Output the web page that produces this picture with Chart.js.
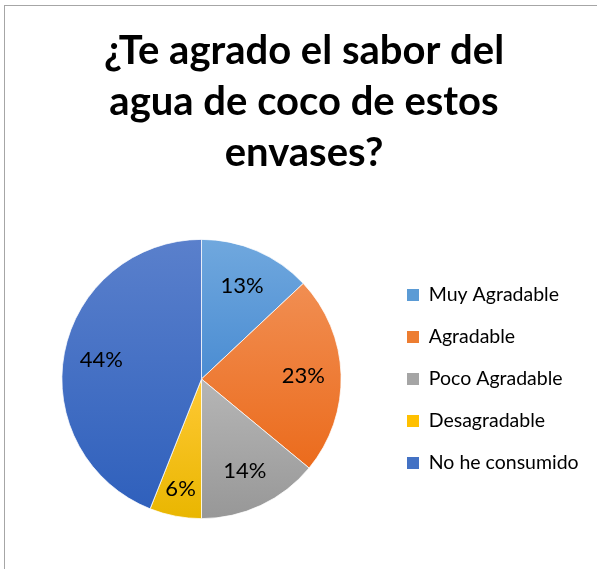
<!DOCTYPE html>
<html lang="es">
<head>
<meta charset="utf-8">
<title>Agua de coco - encuesta</title>
<script src="https://cdn.jsdelivr.net/npm/chart.js@4/dist/chart.umd.min.js"></script>
<style>
    html, body { margin: 0; padding: 0; background: #fff; }
    #marco {
        position: absolute; left: 4px; top: 5px; width: 700px; height: 700px;
        border-left: 1px solid #a6a6a6; border-top: 1px solid #a6a6a6;
    }
    #grafico { position: absolute; left: 0; top: 0; }
</style>
</head>
<body>
<div id="marco"></div>
<canvas id="grafico" width="597" height="569"></canvas>
<script>
// respuestas de la encuesta (porcentaje)
const opciones = ['Muy Agradable', 'Agradable', 'Poco Agradable', 'Desagradable', 'No he consumido'];
const respuestas = [13, 23, 14, 6, 44];
const titulo = ['¿Te agrado el sabor del', 'agua de coco de estos', 'envases?'];

// colores estilo office: base, claro (arriba) y oscuro (abajo)
const colorBase = ['#5b9bd5', '#ed7d31', '#a5a5a5', '#ffc000', '#4472c4'];
const colorClaro = ['#70a8de', '#f18e52', '#b6b6b6', '#ffc935', '#5a80cc'];
const colorOscuro = ['#4a8cd2', '#eb6b1c', '#979797', '#e9b600', '#2f60bc'];

const anchoLeyenda = 205;

// degradado vertical dentro del recuadro de cada porcion
function rellenoPorcion(context) {
    const i = context.dataIndex;
    const area = context.chart.chartArea;
    if (!area || i === undefined) return colorBase[i];
    const cx = (area.left + area.right) / 2;
    const cy = (area.top + area.bottom) / 2;
    const r = Math.min(area.right - area.left, area.bottom - area.top) / 2;
    const total = respuestas.reduce((a, b) => a + b, 0);
    const antes = respuestas.slice(0, i).reduce((a, b) => a + b, 0);
    const ini = -Math.PI / 2 + 2 * Math.PI * antes / total;
    const fin = ini + 2 * Math.PI * respuestas[i] / total;
    const ys = [cy, cy + r * Math.sin(ini), cy + r * Math.sin(fin)];
    if (ini < Math.PI / 2 && fin > Math.PI / 2) ys.push(cy + r);
    if (ini < 3 * Math.PI / 2 && fin > 3 * Math.PI / 2) ys.push(cy - r);
    const y0 = Math.min(...ys), y1 = Math.max(...ys);
    const g = context.chart.ctx.createLinearGradient(0, y0, 0, y1 + 1);
    g.addColorStop(0, colorClaro[i]);
    g.addColorStop(1, colorOscuro[i]);
    return g;
}

// etiquetas de porcentaje dentro de cada porcion
const etiquetas = {
    id: 'etiquetas',
    afterDatasetsDraw(chart) {
        const ctx = chart.ctx;
        const meta = chart.getDatasetMeta(0);
        ctx.save();
        ctx.font = '22px Lato';
        ctx.fillStyle = '#000';
        ctx.textAlign = 'center';
        ctx.textBaseline = 'middle';
        meta.data.forEach((arc, i) => {
            const v = respuestas[i];
            const p = arc.getProps(['x', 'y', 'startAngle', 'endAngle', 'outerRadius'], true);
            const medio = (p.startAngle + p.endAngle) / 2;
            const r = p.outerRadius * (v < 10 ? 0.8 : 0.73);
            ctx.fillText(v + '%', p.x + Math.cos(medio) * r, p.y + Math.sin(medio) * r);
        });
        ctx.restore();
    }
};

// ancho fijo para la leyenda de la derecha
const leyendaFija = {
    id: 'leyendaFija',
    afterInit(chart) {
        const legend = chart.legend;
        const fit = legend.fit;
        legend.fit = function () {
            fit.call(this);
            this.width = anchoLeyenda;
        };
    }
};

new Chart(document.getElementById('grafico'), {
    type: 'pie',
    data: {
        labels: opciones,
        datasets: [{
            data: respuestas,
            backgroundColor: rellenoPorcion,
            borderColor: '#ffffff',
            borderWidth: 0.75
        }]
    },
    options: {
        responsive: false,
        animation: false,
        devicePixelRatio: 1,
        layout: { padding: { left: 18.5, right: 7.5, top: 0, bottom: 50 } },
        plugins: {
            title: {
                display: true,
                text: titulo,
                color: '#000',
                font: { family: 'Lato', size: 40, weight: 'bold', lineHeight: 51 / 40 },
                padding: { top: 25.5, bottom: 60.5 }
            },
            legend: {
                position: 'right',
                fullSize: false,
                labels: {
                    color: '#000',
                    font: { family: 'Lato', size: 19.5 },
                    boxWidth: 12,
                    boxHeight: 12,
                    padding: 22.5,
                    generateLabels(chart) {
                        return opciones.map((texto, i) => ({
                            text: texto,
                            fillStyle: colorBase[i],
                            strokeStyle: colorBase[i],
                            lineWidth: 0,
                            fontColor: '#000',
                            index: i
                        }));
                    }
                }
            },
            tooltip: { enabled: false }
        }
    },
    plugins: [etiquetas, leyendaFija]
});
</script>
</body>
</html>
